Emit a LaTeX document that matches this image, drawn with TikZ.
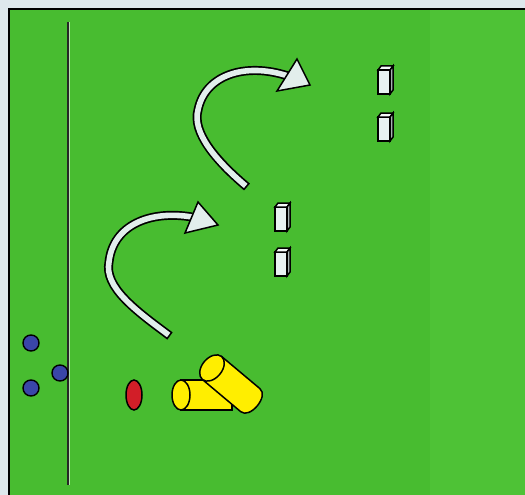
\documentclass[tikz,border=0pt]{standalone}
\begin{document}
\begin{tikzpicture}[x=1pt,y=-1pt,
  outline/.style={draw=black,line width=1.5pt},
  bluedot/.style={circle,fill=dotblue,draw=black,line width=1.4pt,minimum size=16pt,inner sep=0pt},
  shaftout/.style={draw=black,line width=9pt},
  shaftin/.style={draw=arrowfill,line width=5.6pt,shorten <=1.7pt},
  arrowhd/.style={fill=arrowfill,draw=black,line width=1.5pt,line join=miter},
  pole/.pic={
    \filldraw[fill=polefront,outline] (0,4) -- (12,4) -- (12,28) -- (0,28) -- cycle;
    \filldraw[fill=poletop,outline] (0,4) -- (3,0) -- (15,0) -- (12,4) -- cycle;
    \filldraw[fill=poleside,outline] (12,4) -- (15,0) -- (15,24) -- (12,28) -- cycle;
  }]
\definecolor{bordercol}{RGB}{222,232,236}
\definecolor{field}{RGB}{72,188,48}
\definecolor{fieldlight}{RGB}{78,194,54}
\definecolor{dotblue}{RGB}{58,70,168}
\definecolor{ovalred}{RGB}{210,30,40}
\definecolor{coneyellow}{RGB}{255,238,0}
\definecolor{arrowfill}{RGB}{226,238,236}
\definecolor{polefront}{RGB}{232,242,242}
\definecolor{poletop}{RGB}{245,250,250}
\definecolor{poleside}{RGB}{165,178,178}

\useasboundingbox (0,0) rectangle (525,495);
\fill[bordercol] (0,0) rectangle (525,495);
\fill[field] (9,9) rectangle (525,495);
\fill[fieldlight] (430,9) rectangle (525,495);
\draw[line width=1.5pt] (9,495) -- (9,9) -- (525,9);

% side line
\coordinate (lt) at (68,22);
\coordinate (lb) at (68,485);
\draw[white!60!field,line width=0.8pt] ([xshift=1.3pt]lt) -- ([xshift=1.3pt]lb);
\draw[black!85,line width=1.2pt] (lt) -- (lb);

% upper curved arrow
\draw[shaftout] (247,187) .. controls (215,160) and (192,132) .. (198,110)
   .. controls (205,75) and (245,62) .. (288,76);
\draw[shaftin] (247,187) .. controls (215,160) and (192,132) .. (198,110)
   .. controls (205,75) and (245,62) .. (288,76);
\filldraw[arrowhd] (310,85) -- (297,59) -- (277,91) -- cycle;

% lower curved arrow
\draw[shaftout] (170,336) .. controls (135,310) and (104,287) .. (109,262)
   .. controls (113,225) and (150,210) .. (192,217);
\draw[shaftin] (170,336) .. controls (135,310) and (104,287) .. (109,262)
   .. controls (113,225) and (150,210) .. (192,217);
\filldraw[arrowhd] (218,225) -- (198,202) -- (185,233) -- cycle;

% poles
\pic at (275,203) {pole};
\pic at (275,248) {pole};
\pic at (378,66) {pole};
\pic at (378,113) {pole};

% players
\node[bluedot] (p1) at (31,343) {};
\node[bluedot] (p2) at (60,373) {};
\node[bluedot] (p3) at (31,388) {};

% red marker
\filldraw[fill=ovalred,outline] (134,395) ellipse [x radius=8, y radius=15];

% yellow cylinders
\filldraw[fill=coneyellow,outline] (181,380) -- (232,380) -- (232,410) -- (181,410) -- cycle;
\filldraw[fill=coneyellow,outline] (181,395) ellipse [x radius=9, y radius=15];
\begin{scope}[shift={(212,368)},rotate=-40]
  \filldraw[fill=coneyellow,outline] (0,-15) -- (50,-15) .. controls (62,-15) and (62,15) .. (50,15) -- (0,15) -- cycle;
  \filldraw[fill=coneyellow,outline] (0,0) ellipse [x radius=10, y radius=15];
\end{scope}
\end{tikzpicture}
\end{document}
